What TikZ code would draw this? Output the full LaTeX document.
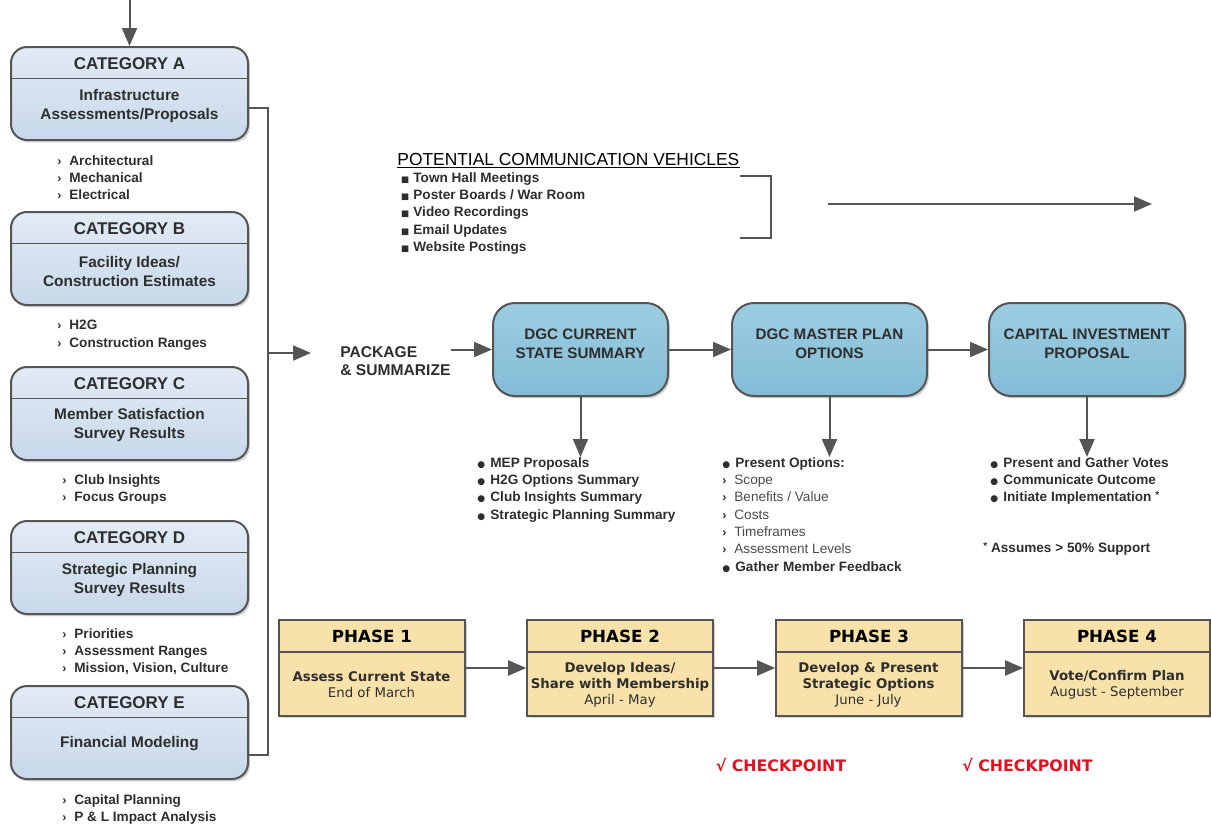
\documentclass[tikz,border=0pt]{standalone}
\usepackage{fontspec}
\setmainfont{Liberation Sans}
\newfontfamily\phasefont{DejaVu Sans}
\usetikzlibrary{arrows.meta,calc,positioning,fit,shadows}
\definecolor{InkDark}{HTML}{2E2E2E}
\definecolor{InkSoft}{HTML}{4A4A4A}
\definecolor{EdgeGrey}{HTML}{555555}
\definecolor{CatTop}{HTML}{E2EBF5}
\definecolor{CatBottom}{HTML}{C8D8EA}
\definecolor{StepTop}{HTML}{9CCDE1}
\definecolor{StepBottom}{HTML}{84BCD6}
\definecolor{PhaseTan}{HTML}{F8E2A9}
\definecolor{CheckRed}{HTML}{E3101F}
\newcommand{\arrmk}{\makebox[6pt][l]{\fontsize{6.2}{6}\selectfont\bfseries ›}}
\newcommand{\blt}{\makebox[6.5pt][l]{\phasefont\fontsize{4.5}{4.5}\selectfont ●}}
\newcommand{\sqb}{\makebox[7pt][l]{\hspace{0.8pt}\phasefont\fontsize{4.3}{4.3}\selectfont ■}}
\newcommand{\fnmark}{\raisebox{1.5pt}{\fontsize{5}{5}\selectfont *}}

\begin{document}
\begin{tikzpicture}[x=0.5pt, y=-0.5pt,
  line/.style={draw=EdgeGrey, line width=1pt},
  thinline/.style={draw=EdgeGrey, line width=0.6pt},
  arr/.style={line, -{Triangle[length=9pt, width=7.5pt]}},
  cat/.style={draw=EdgeGrey, top color=CatTop, bottom color=CatBottom, line width=1pt, rounded corners=8pt, inner sep=0pt,
    drop shadow={shadow xshift=1pt, shadow yshift=-1.2pt, opacity=0.35}},
  cattitle/.style={font=\fontsize{8.5}{10}\selectfont\bfseries, text=InkDark},
  catbody/.style={font=\fontsize{7.7}{9.5}\selectfont\bfseries, text=InkDark, align=center},
  lst/.style={font=\fontsize{6.8}{8.65}\selectfont\bfseries, text=InkDark, align=left, anchor=north west, inner sep=0pt},
  stepbox/.style={draw=EdgeGrey, top color=StepTop, bottom color=StepBottom, line width=1pt, rounded corners=11pt, inner sep=0pt,
    font=\fontsize{7.6}{9.5}\selectfont\bfseries, text=InkDark, align=center,
    drop shadow={shadow xshift=1pt, shadow yshift=-1.2pt, opacity=0.35}},
  phase/.style={draw=EdgeGrey, fill=PhaseTan, line width=0.8pt, inner sep=0pt,
    drop shadow={shadow xshift=1pt, shadow yshift=-1.2pt, opacity=0.35}},
  phasetitle/.style={font=\phasefont\fontsize{8.35}{10}\selectfont\bfseries, text=black},
  phasebody/.style={font=\phasefont\fontsize{6.66}{8}\selectfont, text=InkDark, align=center},
  check/.style={font=\phasefont\fontsize{7.9}{9}\selectfont\bfseries, text=CheckRed},
]
\useasboundingbox (0,0) rectangle (1211,826);
% ---------------- categories (left column)
\foreach \n/\y in {A/47, B/212, C/367, D/521, E/686} {
  \node[cat, fit={(11,\y) (248,\y+93)}] (cat\n) {};
  \node[cattitle] (cat\n t) at (129.5,\y+17) {CATEGORY \n};
  \draw[thinline] (11,\y+31.5) -- (248,\y+31.5);
}
\node[catbody] (catAb) at (129.5,106) {Infrastructure\\Assessments/Proposals};
\node[catbody] (catBb) at (129.5,271) {Facility Ideas/\\Construction Estimates};
\node[catbody] (catCb) at (129.5,425) {Member Satisfaction\\Survey Results};
\node[catbody] (catDb) at (129.5,580) {Strategic Planning\\Survey Results};
\node[catbody] (catEb) at (129.5,744) {Financial Modeling};
\node[lst] (lstA) at (57,155) {\arrmk Architectural\\ \arrmk Mechanical\\ \arrmk Electrical};
\node[lst] (lstB) at (57,320) {\arrmk H2G\\ \arrmk Construction Ranges};
\node[lst] (lstC) at (62,474) {\arrmk Club Insights\\ \arrmk Focus Groups};
\node[lst] (lstD) at (62,628) {\arrmk Priorities\\ \arrmk Assessment Ranges\\ \arrmk Mission, Vision, Culture};
\node[lst] (lstE) at (62,794) {\arrmk Capital Planning\\ \arrmk P \& L Impact Analysis};
\coordinate (feed) at (129.5,0);
\draw[arr] (feed) -- (catA);
% collecting bus
\coordinate (busTop) at (268,108);
\coordinate (busBot) at (268,755);
\coordinate (busOut) at (268,353);
\coordinate (pkgIn) at (311,353);
\draw[line] (catA.east |- busTop) -- (busTop) -- (busBot) -- (catE.east |- busBot);
\draw[arr] (busOut) -- (pkgIn);
% ---------------- communication vehicles
\node[font=\fontsize{8.7}{10}\selectfont, text=black, anchor=base west, inner sep=0pt] (pcv) at (397,165) {POTENTIAL COMMUNICATION VEHICLES};
\draw[line width=0.7pt, black] ([yshift=-1.2pt]pcv.base west) -- ([yshift=-1.2pt]pcv.base east);
\node[lst] (veh) at (399,172) {\sqb Town Hall Meetings\\ \sqb Poster Boards / War Room\\ \sqb Video Recordings\\ \sqb Email Updates\\ \sqb Website Postings};
\coordinate (brTop) at (740,176);
\coordinate (brBot) at (740,238);
\draw[line, line width=0.8pt] (brTop) -- ++(31,0) |- (brBot);
\coordinate (vehOut) at (828,204);
\coordinate (vehEnd) at (1152,204);
\draw[arr] (vehOut) -- (vehEnd);
% ---------------- package and summary steps
\node[font=\fontsize{7.8}{9}\selectfont\bfseries, text=InkDark, align=left, anchor=west, inner sep=0pt] (pkg) at (340,361) {PACKAGE\\\& SUMMARIZE};
\node[stepbox, fit={(493,303) (668,396)}] (s1) {DGC CURRENT\\STATE SUMMARY};
\node[stepbox, fit={(732,303) (927,396)}] (s2) {DGC MASTER PLAN\\OPTIONS};
\node[stepbox, fit={(989,303) (1185,396)}] (s3) {CAPITAL INVESTMENT\\PROPOSAL};
\draw[arr] (pkg.east |- s1.west) -- (s1.west);
\draw[arr] (s1) -- (s2);
\draw[arr] (s2) -- (s3);
\node[lst] (l1) at (477,457) {\blt MEP Proposals\\ \blt H2G Options Summary\\ \blt Club Insights Summary\\ \blt Strategic Planning Summary};
\node[lst] (l2) at (722,457) {\blt Present Options:\\ \arrmk{\mdseries\color{InkSoft} Scope}\\ \arrmk{\mdseries\color{InkSoft} Benefits / Value}\\ \arrmk{\mdseries\color{InkSoft} Costs}\\ \arrmk{\mdseries\color{InkSoft} Timeframes}\\ \arrmk{\mdseries\color{InkSoft} Assessment Levels}\\ \blt Gather Member Feedback};
\node[lst] (l3) at (990,457) {\blt Present and Gather Votes\\ \blt Communicate Outcome\\ \blt Initiate Implementation \fnmark};
\node[lst, anchor=west] (note) at (983,549) {\fnmark\ Assumes > 50\% Support};
\draw[arr] (s1.south) -- (s1.south |- l1.north);
\draw[arr] (s2.south) -- (s2.south |- l2.north);
\draw[arr] (s3.south) -- (s3.south |- l3.north);
% ---------------- phases
\foreach \n/\x in {1/279, 2/527, 3/776, 4/1024} {
  \node[phase, fit={(\x,620) (\x+186,716)}] (p\n) {};
  \node[phasetitle] (p\n t) at (\x+93,636) {PHASE \n};
  \draw[thinline] (\x,652) -- (\x+186,652);
}
\node[phasebody] (p1b) at (371.5,685) {\textbf{Assess Current State}\\End of March};
\node[phasebody] (p2b) at (620,685) {\textbf{Develop Ideas/}\\\textbf{Share with Membership}\\April - May};
\node[phasebody] (p3b) at (868.5,685) {\textbf{Develop \& Present}\\\textbf{Strategic Options}\\June - July};
\node[phasebody] (p4b) at (1117,685) {\textbf{Vote/Confirm Plan}\\August - September};
\draw[arr] (p1) -- (p2);
\draw[arr] (p2) -- (p3);
\draw[arr] (p3) -- (p4);
\node[check] (chk3) at (781,765) {√ CHECKPOINT};
\node[check] (chk4) at (1027.5,765) {√ CHECKPOINT};
\end{tikzpicture}
\end{document}
